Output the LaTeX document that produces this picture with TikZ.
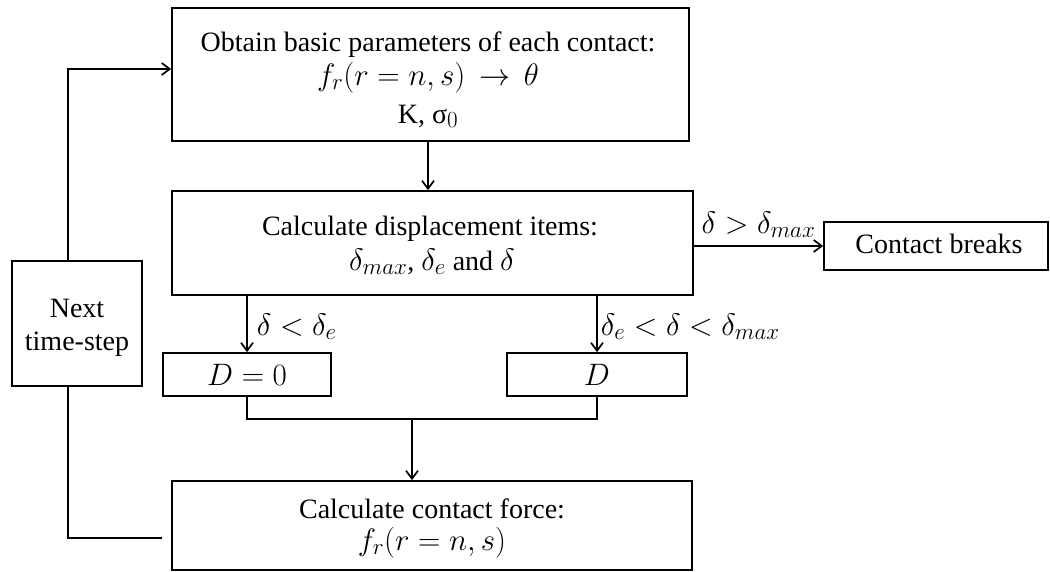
\documentclass[tikz,border=0pt]{standalone}
\usepackage{fix-cm}
\usepackage{fontspec}
\setmainfont{Liberation Serif}
\DeclareMathSizes{28}{31}{23}{18}
\usetikzlibrary{arrows.meta,calc}
\begin{document}
\begin{tikzpicture}[x=1pt,y=-1pt,
  box/.style={draw,line width=1.8pt,inner sep=0pt},
  txt/.style={anchor=base,inner sep=0pt,font=\fontsize{28}{34}\selectfont},
  conn/.style={line width=1.7pt},
  arr/.style={conn,-{Straight Barb[length=8pt,width=12pt]}},
  lab/.style={inner sep=0pt,font=\fontsize{28}{34}\selectfont}]
\useasboundingbox (0,0) rectangle (1050,571);
% boxes
\node[box,minimum width=517pt,minimum height=133pt] (b1) at (430.5,74.5) {};
\node[txt] (b1a) at (428,51) {Obtain basic parameters of each contact:};
\node[txt] (b1b) at (428,85) {$f_r(r=n,s)\,\to\,\theta$};
\node[txt] (b1c) at (428,123) {K, σ$_0$};

\node[box,minimum width=521pt,minimum height=104pt] (b2) at (432.5,243) {};
\node[txt] (b2a) at (430,235) {Calculate displacement items:};
\node[txt] (b2b) at (432,270) {$\delta_{max}$, $\delta_e$ and $\delta$};

\node[box,minimum width=520pt,minimum height=89pt] (b3) at (432,525.5) {};
\node[txt] (b3a) at (432,518) {Calculate contact force:};
\node[txt] (b3b) at (432,550) {$f_r(r=n,s)$};

\node[box,minimum width=130pt,minimum height=125pt] (nx) at (77,323.5) {};
\node[txt] (nxa) at (77,317) {Next};
\node[txt] (nxb) at (77,350) {time-step};

\node[box,minimum width=224pt,minimum height=48pt] (cb) at (936,246) {};
\node[txt] (cbt) at (939,253) {Contact breaks};

\node[box,minimum width=168pt,minimum height=43pt] (d0) at (247,374.5) {};
\node[txt] (d0t) at (247,385) {$D=0$};
\node[box,minimum width=180pt,minimum height=43pt] (d1) at (597,374.5) {};
\node[txt] (d1t) at (597,385) {$D$};

% connectors
\draw[arr] ([xshift=-2.5pt]b1.south) -- ([xshift=-2.5pt]b1.south |- b2.north);
\draw[arr] ([xshift=-9pt]nx.north) |- ([yshift=5.5pt]b1.west);
\draw[conn,shorten >=9pt] ([xshift=-9pt]nx.south) |- ([yshift=-12.5pt]b3.west);
\draw[arr] (b2.east |- cb.west) -- node[lab,anchor=base,yshift=13pt] {$\delta > \delta_{max}$} (cb.west);
\draw[arr] (b2.south -| d0.north) -- node[lab,anchor=base west,xshift=9pt,yshift=-11pt] {$\delta < \delta_e$} (d0.north);
\draw[arr] (b2.south -| d1.north) -- node[lab,anchor=base west,xshift=3pt,yshift=-11pt] {$\delta_e < \delta < \delta_{max}$} (d1.north);
\draw[conn] (d0.south) -- ++(0,22) -| (d1.south);
\coordinate (m) at (412,418);
\draw[arr] (m) -- (m |- b3.north);
\end{tikzpicture}
\end{document}
